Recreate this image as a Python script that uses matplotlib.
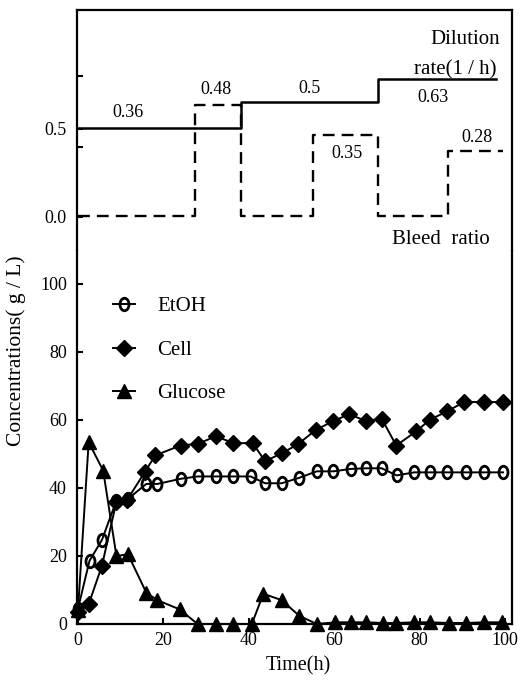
import numpy as np
import matplotlib
matplotlib.use("Agg")
import matplotlib.pyplot as plt
from matplotlib.path import Path
from matplotlib.transforms import Affine2D

plt.rcParams['font.family'] = ['Liberation Serif', 'DejaVu Serif']
plt.rcParams['font.size'] = 13

# Concentration time courses (g/L)
etoh_t = [0, 2.7, 5.6, 9, 11.7, 16, 18.6, 24, 28, 32.3, 36.4, 40.4, 43.8, 47.7,
          51.8, 55.9, 59.8, 63.8, 67.4, 71.1, 74.6, 78.7, 82.4, 86.5, 90.9, 95.1, 99.5]
etoh = [4.5, 18.6, 24.7, 36.3, 36.8, 41.2, 41.2, 42.7, 43.4, 43.4, 43.4, 43.4, 41.4, 41.4,
        43.0, 44.9, 44.9, 45.6, 45.8, 45.8, 43.7, 44.6, 44.6, 44.6, 44.6, 44.6, 44.6]

cell_t = [0, 2.5, 5.6, 9, 11.5, 15.6, 18.1, 24, 28, 32.3, 36.4, 40.9, 43.8, 47.7,
          51.4, 55.7, 59.8, 63.5, 67.4, 71.1, 74.5, 79.2, 82.4, 86.5, 90.4, 95.1, 99.5]
cell = [3.5, 5.8, 17.1, 36.0, 36.5, 44.6, 49.6, 52.5, 53.0, 55.2, 53.2, 53.2, 47.9, 50.2,
        52.8, 57.1, 59.7, 61.7, 59.7, 60.4, 52.5, 56.7, 60.1, 62.6, 65.3, 65.3, 65.3]

glc_t = [0, 2.5, 5.9, 9, 11.7, 16, 18.6, 23.8, 28, 32.3, 36.4, 40.7, 43.4, 47.7,
         51.8, 55.9, 60.2, 64, 67.4, 71.3, 74.5, 78.7, 82.4, 86.8, 90.9, 95.1, 99.3]
glucose = [4.0, 53.5, 45.1, 20.0, 20.5, 9.2, 7.0, 4.3, 0, 0, 0, 0, 8.9, 7.0,
           2.4, 0, 0.5, 0.5, 0.5, 0.3, 0.3, 0.5, 0.5, 0.3, 0.3, 0.5, 0.5]

# Operating conditions: switch times and levels
dil_t = [0, 38.2, 70.3, 97.9]
dil_rate = [0.36, 0.5, 0.63]
bleed_t = [0, 27.4, 38.2, 55.1, 70.3, 86.7, 99.5]
bleed = [0, 0.48, 0, 0.35, 0, 0.28]

fig = plt.figure(figsize=(5.25, 6.91), dpi=100)
W, H = 525, 691
x0, x1 = 76.7, 512
ax = fig.add_axes([x0 / W, 1 - 624 / H, (x1 - x0) / W, 374 / H])
ax_top = fig.add_axes([x0 / W, 1 - 250 / H, (x1 - x0) / W, 240 / H], sharex=ax)

for a in (ax, ax_top):
    for s in a.spines.values():
        s.set_linewidth(1.6)
    a.tick_params(direction='in', length=4, width=1.5, pad=7, labelsize=13)
ax.spines['top'].set_visible(False)
ax_top.spines['bottom'].set_visible(False)

ax.set_xlim(-0.3, 101.6)
ax.set_ylim(0, 110)
ax.set_xticks([0, 20, 40, 60, 80, 100])
ax.set_yticks([0, 20, 40, 60, 80, 100])
ax.tick_params(axis='x', pad=6)

# tall open circle for ethanol
ell = Path.unit_circle().transformed(Affine2D().scale(0.72, 1.0))

ax.plot(etoh_t, etoh, color='black', lw=1.4, marker=ell, ms=9, mfc='none',
        mec='black', mew=2.0, label='EtOH', clip_on=False, zorder=3)
ax.plot(cell_t, cell, color='black', lw=1.4, marker='D', ms=8, mfc='black',
        mec='black', label='Cell', clip_on=False, zorder=3)
ax.plot(glc_t, glucose, color='black', lw=1.4, marker='^', ms=10, mfc='black',
        mec='black', label='Glucose', clip_on=False, zorder=3)

ax.legend(loc='upper left', bbox_to_anchor=(0.083, 0.875), frameon=False,
          borderpad=0, borderaxespad=0, handlelength=1.05, handletextpad=1.1,
          labelspacing=1.15, numpoints=1, fontsize=15)

# upper panel: tick scale plus two hidden scales for the step lines
ax_top.set_ylim(-0.1875, 1.176)
ax_top.set_yticks([0.0, 0.5])
ax_top.set_yticklabels(['0.0', '0.5'])
ax_top.set_yticks([0.4, 0.8], minor=True)
ax_top.tick_params(axis='y', which='minor', direction='in', length=4, width=1.5)
ax_top.tick_params(axis='x', which='both', bottom=False, labelbottom=False)

ax_dil = ax_top.twinx()
ax_dil.set_ylim(-0.315, 1.011)
ax_dil.set_axis_off()
ax_bl = ax_top.twinx()
ax_bl.set_ylim(-0.144, 0.886)
ax_bl.set_axis_off()

ax_dil.step(dil_t, dil_rate + [dil_rate[-1]], where='post', color='black', lw=1.8)
ax_bl.step(bleed_t, bleed + [bleed[-1]], where='post', color='black', lw=1.7,
           linestyle=(0, (5, 3)))

# value labels next to each step
dil_lab_x = [11.7, 54.3, 83.2]
dil_lab_dy = [11, 10, -13.5]
for x, v, dy in zip(dil_lab_x, dil_rate, dil_lab_dy):
    ax_dil.annotate(f"{v:g}", (x, v), xytext=(0, dy), textcoords='offset points',
                    ha='center', va='center', fontsize=13)

bleed_lab_x = [32.3, 62.9, 93.5]
bleed_lab_dy = [11, -13.5, 10]
for x, v, dy in zip(bleed_lab_x, [b for b in bleed if b > 0], bleed_lab_dy):
    ax_bl.annotate(f"{v:g}", (x, v), xytext=(0, dy), textcoords='offset points',
                   ha='center', va='center', fontsize=13)

ax_top.text(90.6, 1.006, 'Dilution', ha='center', va='center', fontsize=15)
ax_top.text(88.3, 0.835, 'rate(1 / h)', ha='center', va='center', fontsize=15)
ax_top.text(85.0, -0.13, 'Bleed  ratio', ha='center', va='center', fontsize=15)

fig.text(16 / W, 1 - 351 / H, 'Concentrations( g / L)', rotation=90,
         ha='center', va='center', fontsize=15.5)
fig.text(298 / W, 1 - 666 / H, 'Time(h)', ha='center', va='center', fontsize=14.5)

fig.savefig('out.png', dpi=100)
